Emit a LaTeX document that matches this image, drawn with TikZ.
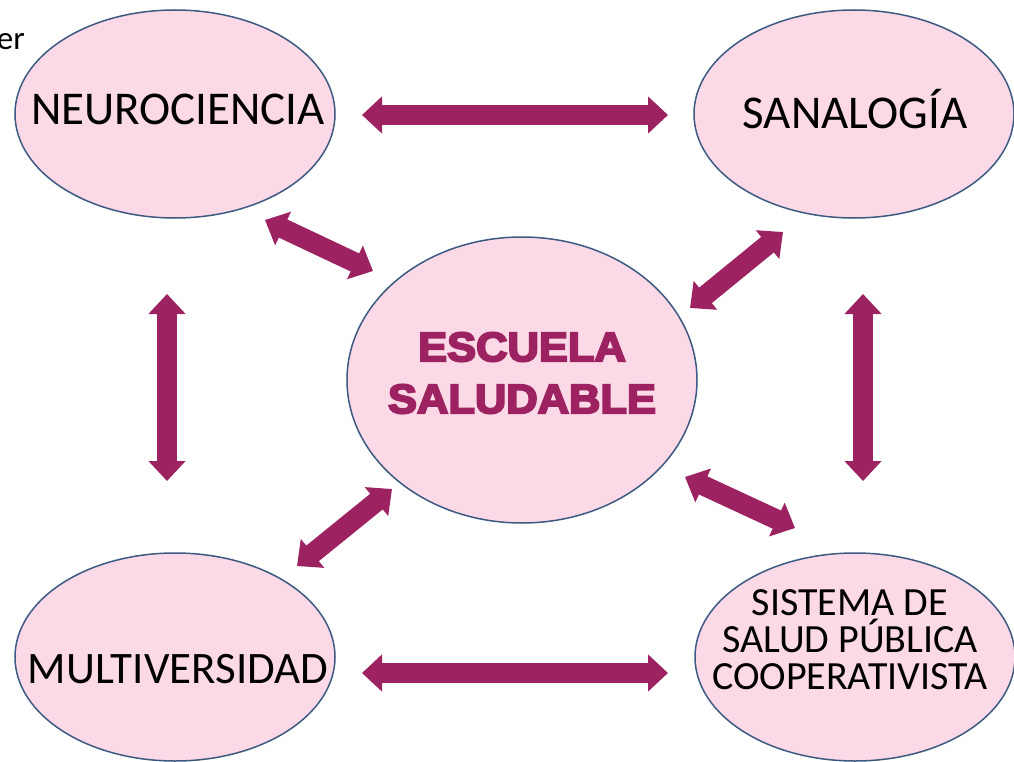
\documentclass[tikz,border=0pt]{standalone}
\usepackage{fontspec}
\setmainfont{Carlito}
\newfontfamily\heavyfam[FakeBold=5,FakeStretch=1.06]{Liberation Sans Bold}
\usetikzlibrary{shapes.geometric,arrows.meta}
\definecolor{pinkfill}{RGB}{252,217,230}
\definecolor{edgeblue}{RGB}{60,90,130}
\definecolor{plum}{RGB}{157,34,98}
\tikzset{
  bubble/.style={ellipse, fill=pinkfill, draw=edgeblue, line width=1.5pt, inner sep=0pt,
    minimum width=320pt, minimum height=208pt},
  dblarrow/.style={draw=plum, line width=20pt,
    {Triangle[width=36pt,length=20pt]}-{Triangle[width=36pt,length=20pt]}},
  lbl/.style={font=\fontsize{47}{50}\selectfont, text=black, inner sep=0pt}
}
\begin{document}
\begin{tikzpicture}[x=1pt,y=-1pt]
\useasboundingbox (0,0) rectangle (1014,762);
\fill[white] (0,0) rectangle (1014,762);

\node[bubble] (neuro) at (175,114) {};
\node[bubble] (sana) at (854,114) {};
\node[bubble] (multi) at (175,657) {};
\node[bubble] (salud) at (855,657) {};
\node[bubble, minimum width=350pt, minimum height=286pt] (escuela) at (522,380) {};

\node[lbl] (tneuro) at (178,109) {NEUROCIENCIA};
\node[lbl] (tsana) at (855,109) {SANALOG\'IA};
\node[lbl, font=\fontsize{45}{50}\selectfont] (tmulti) at (178,669) {MULTIVERSIDAD};
\node[font=\fontsize{40}{37}\selectfont, align=center, inner sep=0pt] (tsalud) at (850,640)
  {SISTEMA DE\\SALUD P\'UBLICA\\COOPERATIVISTA};
\node[font=\heavyfam\fontsize{41}{52}\selectfont, text=plum, align=center, inner sep=0pt]
  (tesc) at (522,373) {ESCUELA\\SALUDABLE};
\node[anchor=base east, font=\fontsize{33}{35}\selectfont, inner sep=0pt] (er) at (25,50) {er};

% arrow end points
\coordinate (a1) at (362,115); \coordinate (b1) at (668,115);
\coordinate (a2) at (362,673); \coordinate (b2) at (668,673);
\coordinate (a3) at (167,294); \coordinate (b3) at (167,481);
\coordinate (a4) at (863,294); \coordinate (b4) at (863,481);
\coordinate (a5) at (265,220); \coordinate (b5) at (373,271);
\coordinate (a6) at (783,232); \coordinate (b6) at (690,308);
\coordinate (a7) at (392,489); \coordinate (b7) at (297,566);
\coordinate (a8) at (685,477); \coordinate (b8) at (795,528);

\foreach \i in {1,...,8} { \draw[dblarrow] (a\i) -- (b\i); }
\end{tikzpicture}
\end{document}
